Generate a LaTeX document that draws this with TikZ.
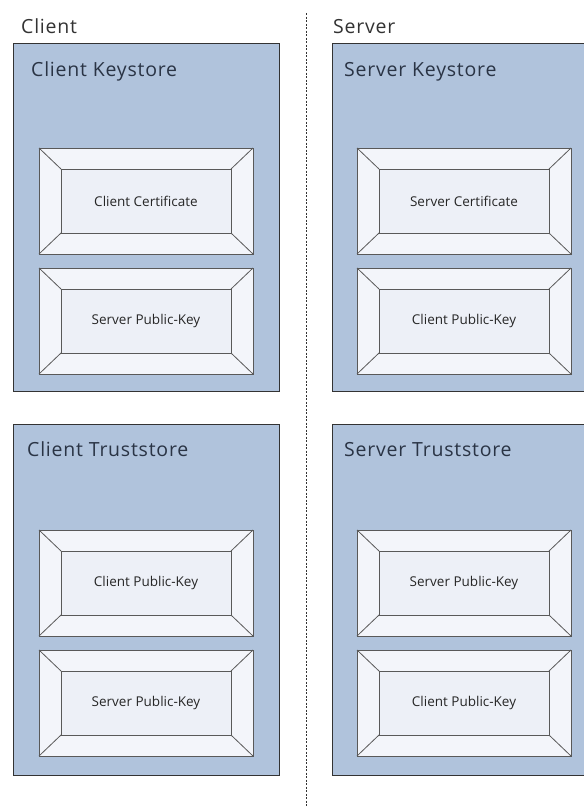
\documentclass[tikz,border=0pt]{standalone}
\usepackage{fontspec}
\setmainfont{Open Sans}
\newfontfamily\titlefont[LetterSpace=4]{Open Sans}
\begin{document}
\begin{tikzpicture}[x=1pt,y=-1pt,
  store/.style={draw=black!80,line width=1pt,fill=storeblue},
  storetitle/.style={anchor=base west,font=\titlefont\fontsize{19.5}{22}\selectfont,text=titleink,inner sep=0pt},
  sidetitle/.style={anchor=base west,font=\titlefont\fontsize{19.5}{22}\selectfont,text=black!80,inner sep=0pt},
  keylabel/.style={font=\fontsize{13.5}{16}\selectfont,text=black!85,inner sep=0pt},
  bevelline/.style={draw=black!65,line width=0.8pt},
]
\definecolor{storeblue}{HTML}{B0C3DC}
\definecolor{titleink}{HTML}{2A3445}
\definecolor{keyface}{HTML}{EDF0F7}
\definecolor{keyrim}{HTML}{F3F5FA}
\useasboundingbox (0,0) rectangle (584,807);
\fill[white] (0,0) rectangle (584,807);

% bevelled key box: #1 name, #2 left, #3 top, #4 label
\newcommand\keybox[4]{%
  \begin{scope}[shift={(#2,#3)}]
    \fill[keyrim] (0,0) rectangle (214,106);
    \fill[keyface] (22,21) rectangle (192,85);
    \draw[bevelline] (0,0) rectangle (214,106);
    \draw[bevelline] (22,21) rectangle (192,85);
    \draw[bevelline] (0,0) -- (22,21) (214,0) -- (192,21)
                     (0,106) -- (22,85) (214,106) -- (192,85);
    \node[keylabel] (#1) at (107,53) {#4};
  \end{scope}}

% column separator
\coordinate (sepTop) at (306,13);
\coordinate (sepBot) at (306,807);
\draw[black!80,line width=0.9pt,dash pattern=on 2pt off 1.5pt] (sepTop) -- (sepBot);

% column headings
\node[sidetitle] (client) at (21,33) {Client};
\node[sidetitle] (server) at (333,33) {Server};

% client side
\draw[store] (13,43) rectangle (279,391);
\node[storetitle] (cks) at (31,76) {Client Keystore};
\keybox{cksCert}{39}{148}{Client Certificate}
\keybox{cksSrvKey}{39}{268}{Server Public-Key}

\draw[store] (13,424) rectangle (279,775);
\node[storetitle] (cts) at (27,456) {Client Truststore};
\keybox{ctsCliKey}{39}{530}{Client Public-Key}
\keybox{ctsSrvKey}{39}{650}{Server Public-Key}

% server side
\draw[store] (332,43) rectangle (590,391);
\node[storetitle] (sks) at (344,76) {Server Keystore};
\keybox{sksCert}{357}{148}{Server Certificate}
\keybox{sksCliKey}{357}{268}{Client Public-Key}

\draw[store] (332,424) rectangle (590,775);
\node[storetitle] (sts) at (344,456) {Server Truststore};
\keybox{stsSrvKey}{357}{530}{Server Public-Key}
\keybox{stsCliKey}{357}{650}{Client Public-Key}
\end{tikzpicture}
\end{document}
